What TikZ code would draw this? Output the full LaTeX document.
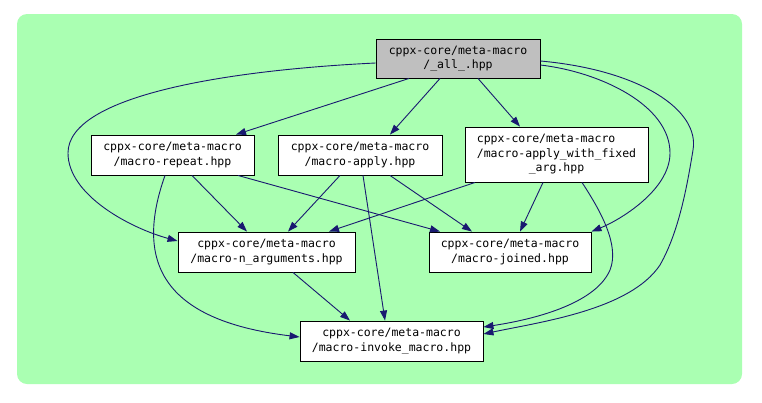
\documentclass[tikz,border=0pt]{standalone}
\usepackage{fontspec}
\setmonofont{DejaVu Sans Mono}
\usepackage{xcolor}
\usetikzlibrary{arrows.meta,calc}

\definecolor{bggreen}{RGB}{170,255,178}
\definecolor{edgeblue}{RGB}{25,25,112}
\definecolor{rootgrey}{RGB}{191,191,191}

\tikzset{
  file/.style={draw=black,fill=white,line width=0.9pt,inner sep=0pt,align=center,
    font=\ttfamily\fontsize{11.5}{14.5}\selectfont},
  dep/.style={draw=edgeblue,line width=0.9pt,-{Triangle[length=10pt,width=7pt]}},
}

\begin{document}
\begin{tikzpicture}[x=1pt,y=-1pt]
\useasboundingbox (0,0) rectangle (762,402);
\fill[bggreen,rounded corners=10pt] (17,14) rectangle (742,384);

%% files
\node[file,fill=rootgrey,minimum width=164pt,minimum height=39pt] (all) at (458,58.5)
  {cppx-core/meta-macro\\/\_all\_.hpp};
\node[file,minimum width=163pt,minimum height=40pt] (repeat) at (172.5,155)
  {cppx-core/meta-macro\\/macro-repeat.hpp};
\node[file,minimum width=164pt,minimum height=40pt] (apply) at (360,155)
  {cppx-core/meta-macro\\/macro-apply.hpp};
\node[file,minimum width=183pt,minimum height=55pt] (fixed) at (556.5,154.5)
  {cppx-core/meta-macro\hphantom{xxx}\\/macro-apply\_with\_fixed\\\_arg.hpp};
\node[file,minimum width=177pt,minimum height=40pt] (nargs) at (266.5,252)
  {cppx-core/meta-macro\\/macro-n\_arguments.hpp};
\node[file,minimum width=162pt,minimum height=40pt] (joined) at (510,252)
  {cppx-core/meta-macro\\/macro-joined.hpp};
\node[file,minimum width=183pt,minimum height=40pt] (invoke) at (391.5,341)
  {cppx-core/meta-macro\\/macro-invoke\_macro.hpp};

%% includes of _all_
\draw[dep] ($(all.south)+(-49,0)$) -- ($(repeat.north)+(63.5,0)$);
\draw[dep] ($(all.south)+(-18,0)$) -- ($(apply.north)+(30,0)$);
\draw[dep] ($(all.south)+(20,0)$) -- ($(fixed.north)+(-36.5,0)$);
\draw[dep] ($(all.west)+(0,4.5)$) .. controls (230,70) and (68,95) .. (68,153)
  .. controls (68,195) and (130,228) .. ($(nargs.west)+(0,-11)$);
\draw[dep] ($(all.east)+(0,6.5)$) .. controls (600,72) and (670,105) .. (670,153)
  .. controls (670,190) and (620,220) .. (joined.north east);
\draw[dep] ($(all.east)+(0,2.5)$) .. controls (640,70) and (700,110) .. (693,150)
  .. controls (688,180) and (680,230) .. (660,265)
  .. controls (630,310) and (540,322) .. ($(invoke.east)+(0,-7)$);

%% includes of the others
\draw[dep] ($(repeat.south)+(19.5,0)$) -- ($(nargs.north)+(-19.5,0)$);
\draw[dep] ($(repeat.south)+(65.5,0)$) -- ($(joined.north)+(-70,0)$);
\draw[dep] ($(repeat.south)+(-7.5,0)$) .. controls (135,260) and (160,320) .. ($(invoke.west)+(0,-4)$);
\draw[dep] ($(apply.south)+(-20,0)$) -- ($(nargs.north)+(21.5,0)$);
\draw[dep] ($(apply.south)+(30,0)$) -- ($(joined.north)+(-38,0)$);
\draw[dep] ($(apply.south)+(3,0)$) -- ($(invoke.north)+(-6.5,0)$);
\draw[dep] ($(fixed.south)+(-81.5,0)$) -- ($(nargs.north)+(62.5,0)$);
\draw[dep] ($(fixed.south)+(-13.5,0)$) -- ($(joined.north)+(10,0)$);
\draw[dep] ($(fixed.south)+(25.5,0)$) .. controls (600,210) and (620,245) .. (610,270)
  .. controls (595,305) and (530,320) .. ($(invoke.east)+(0,-14)$);
\draw[dep] ($(nargs.south)+(26.5,0)$) -- ($(invoke.north)+(-41.5,0)$);
\end{tikzpicture}
\end{document}
